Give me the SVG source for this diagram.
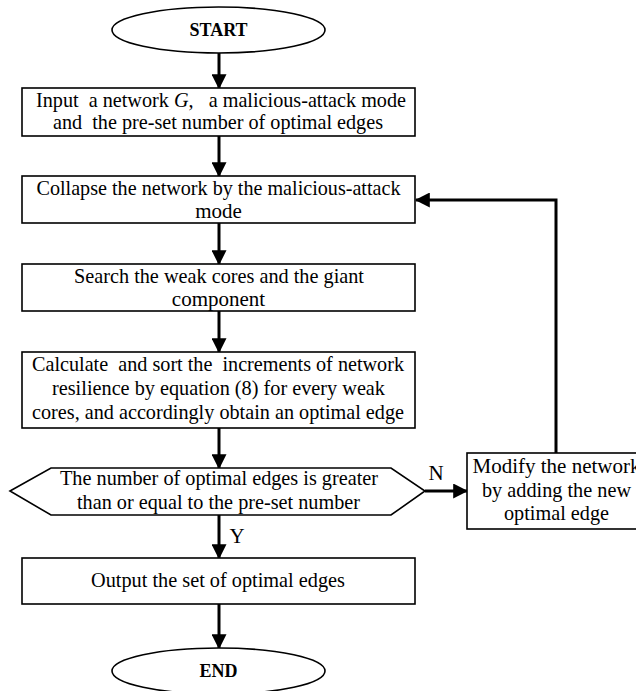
<svg xmlns="http://www.w3.org/2000/svg" width="636" height="691" viewBox="0 0 636 691">
<defs>
<marker id="ah" markerWidth="5" markerHeight="5" refX="4.6" refY="2.5" orient="auto" markerUnits="strokeWidth">
<path d="M0,0 L5,2.5 L0,5 Z" fill="#000"/>
</marker>
<style>
.box{fill:#fff;stroke:#000;stroke-width:1.6}
.t{font-family:"Liberation Serif","Times New Roman",serif;font-size:21px;fill:#000;text-anchor:middle;white-space:pre}
.b{font-family:"Liberation Serif","Times New Roman",serif;font-size:18px;font-weight:bold;fill:#000;text-anchor:middle}
.c{fill:none;stroke:#000;stroke-width:3}
</style>
</defs>
<rect width="636" height="691" fill="#fff"/>
<g id="connectors">
<line class="c" x1="219" y1="53" x2="219" y2="88" marker-end="url(#ah)"/>
<line class="c" x1="219" y1="136" x2="219" y2="176" marker-end="url(#ah)"/>
<line class="c" x1="219" y1="223" x2="219" y2="264" marker-end="url(#ah)"/>
<line class="c" x1="219" y1="311" x2="219" y2="352" marker-end="url(#ah)"/>
<line class="c" x1="219" y1="428" x2="219" y2="468" marker-end="url(#ah)"/>
<line class="c" x1="219" y1="515" x2="219" y2="558" marker-end="url(#ah)"/>
<line class="c" x1="219" y1="604" x2="219" y2="648" marker-end="url(#ah)"/>
<line class="c" x1="425" y1="491" x2="467" y2="491" marker-end="url(#ah)"/>
<polyline class="c" points="556,453 556,200 416,200" marker-end="url(#ah)"/>
<text class="t" x="436" y="480">N</text>
<text class="t" x="237" y="543">Y</text>
</g>
<g id="start">
<ellipse class="box" cx="218.5" cy="30" rx="106.5" ry="23"/>
<text class="b" x="218.5" y="36">START</text>
</g>
<g id="input">
<rect class="box" x="22" y="88" width="393" height="48"/>
<text class="t" x="221" y="107" textLength="370" lengthAdjust="spacingAndGlyphs">Input  a network <tspan font-style="italic">G</tspan>,   a malicious-attack mode</text>
<text class="t" x="218" y="129" textLength="330" lengthAdjust="spacingAndGlyphs">and  the pre-set number of optimal edges</text>
</g>
<g id="collapse">
<rect class="box" x="22" y="176" width="393" height="47"/>
<text class="t" x="218.5" y="195" textLength="364" lengthAdjust="spacingAndGlyphs">Collapse the network by the malicious-attack</text>
<text class="t" x="218.5" y="218">mode</text>
</g>
<g id="search">
<rect class="box" x="22" y="264" width="393" height="47"/>
<text class="t" x="219" y="283" textLength="290" lengthAdjust="spacingAndGlyphs">Search the weak cores and the giant</text>
<text class="t" x="218.5" y="306">component</text>
</g>
<g id="calculate">
<rect class="box" x="22" y="352" width="393" height="76"/>
<text class="t" x="218" y="371" textLength="372" lengthAdjust="spacingAndGlyphs">Calculate  and sort the  increments of network</text>
<text class="t" x="218.5" y="395" textLength="333" lengthAdjust="spacingAndGlyphs">resilience by equation (8) for every weak</text>
<text class="t" x="218" y="419" textLength="372" lengthAdjust="spacingAndGlyphs">cores, and accordingly obtain an optimal edge</text>
</g>
<g id="decision">
<polygon class="box" points="10,491 51,468 391,468 425,491 391,515 51,515"/>
<text class="t" x="219" y="485" textLength="318" lengthAdjust="spacingAndGlyphs">The number of optimal edges is greater</text>
<text class="t" x="218.5" y="509" textLength="283" lengthAdjust="spacingAndGlyphs">than or equal to the pre-set number</text>
</g>
<g id="modify">
<rect class="box" x="467" y="453" width="180" height="76"/>
<text class="t" x="556.5" y="473">Modify the network</text>
<text class="t" x="556.5" y="497" textLength="149" lengthAdjust="spacingAndGlyphs">by adding the new</text>
<text class="t" x="556.5" y="520" textLength="105" lengthAdjust="spacingAndGlyphs">optimal edge</text>
</g>
<g id="output">
<rect class="box" x="22" y="558" width="393" height="46"/>
<text class="t" x="218" y="587" textLength="254" lengthAdjust="spacingAndGlyphs">Output the set of optimal edges</text>
</g>
<g id="end">
<ellipse class="box" cx="218.5" cy="671" rx="106.5" ry="23"/>
<text class="b" x="218.5" y="677">END</text>
</g>
</svg>
